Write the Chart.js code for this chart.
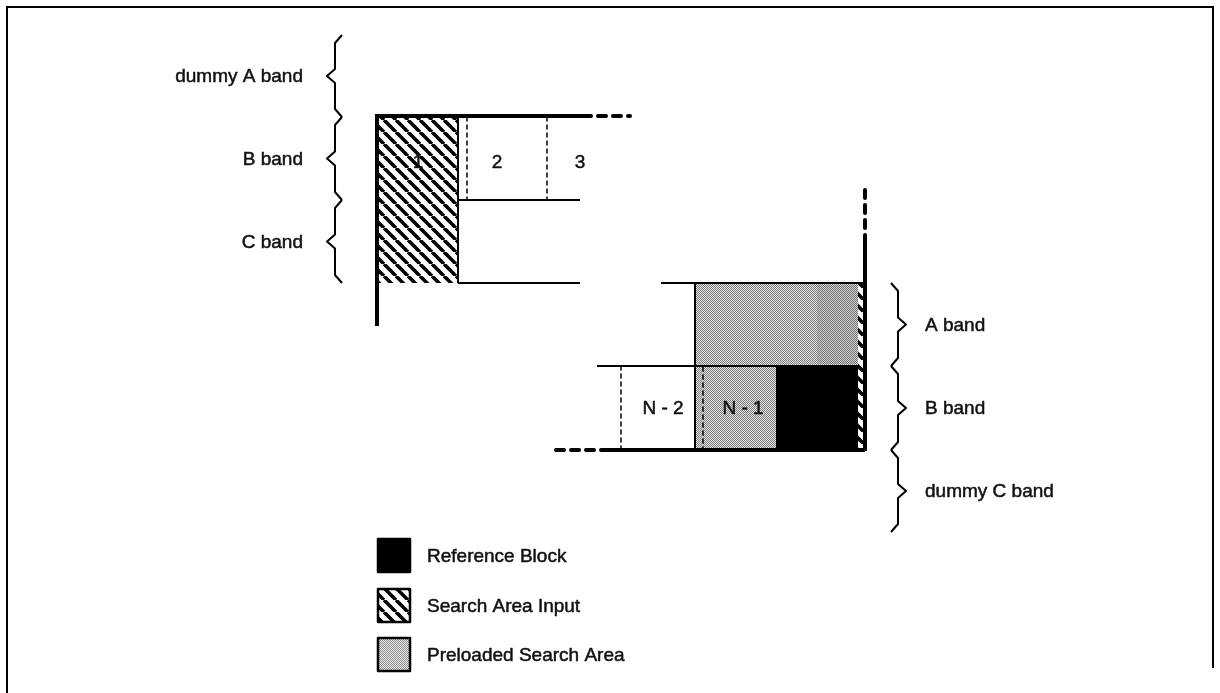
<!DOCTYPE html>
<html>
<head>
<meta charset="utf-8">
<script src="https://cdn.jsdelivr.net/npm/chart.js@4.4.0/dist/chart.umd.min.js"></script>
<style>
  body { margin: 0; background: #fff; }
  #wrap { width: 1220px; height: 693px; }
</style>
</head>
<body>
<div id="wrap"><canvas id="diagram"></canvas></div>
<script>
// band labels and where each band starts/ends (diagram units)
const leftBands = ['dummy A band', 'B band', 'C band'];
const leftBandEdges = [35, 117, 200, 283];
const rightBands = ['A band', 'B band', 'dummy C band'];
const rightBandEdges = [283, 366, 450, 532];

// block numbers
const blockLabels = ['1', '2', '3', 'N - 2', 'N - 1'];
const blockX = [418, 497, 580, 663, 743];
const blockY = [163, 163, 163, 409, 409];

// block areas [x0, y0, x1, y1]
const hatchBlocks = [[377, 116, 458, 200], [377, 200, 458, 283], [858, 283, 865, 450]];
const preloadBlocks = [[695, 283, 858, 366], [695, 366, 777, 450]];
const preloadDark = [[817, 285, 858, 364]];
const referenceBlocks = [[777, 366, 858, 450]];

// grid lines
const thickLines = [[[377, 116], [583, 116]], [[377, 114], [377, 326]], [[865, 240], [865, 451]], [[605, 450], [865, 450]]];
const thickDashed = [[[583, 116], [630, 116]], [[865, 190], [865, 240]], [[556, 450], [605, 450]]];
const thinLines = [[[458, 116], [458, 283]], [[458, 200], [580, 200]], [[458, 283], [580, 283]],
  [[661, 283], [865, 283]], [[597, 366], [858, 366]], [[695, 283], [695, 450]], [[777, 366], [777, 450]]];
const dottedLines = [[[467, 117], [467, 200]], [[547, 117], [547, 200]], [[621, 366], [621, 450]], [[703, 367], [703, 450]]];

// legend
const legendLabels = ['Reference Block', 'Search Area Input', 'Preloaded Search Area'];
const legendY = [556, 606, 655];

const FONT = '19px "Liberation Sans", Arial, sans-serif';

function makeHatch() {
  const c = document.createElement('canvas');
  c.width = 12; c.height = 12;
  const g = c.getContext('2d');
  g.strokeStyle = '#000';
  g.lineWidth = 3.6;
  [-12, 0, 12].forEach(o => {
    g.beginPath(); g.moveTo(o, 0); g.lineTo(o + 12, 12); g.stroke();
  });
  return c;
}

function makeDots(dark, light) {
  const c = document.createElement('canvas');
  c.width = 2; c.height = 2;
  const g = c.getContext('2d');
  g.fillStyle = light; g.fillRect(0, 0, 2, 2);
  g.fillStyle = dark; g.fillRect(0, 0, 1, 1); g.fillRect(1, 1, 1, 1);
  return c;
}

const segDataset = (seg, width, dash) => ({
  data: seg.map(p => ({ x: p[0], y: p[1] })),
  showLine: true,
  borderColor: '#000',
  borderWidth: width,
  borderDash: dash,
  borderCapStyle: dash.length ? 'round' : 'butt',
  pointRadius: 0,
  fill: false
});

const datasets = [
  ...thickLines.map(s => segDataset(s, 4, [])),
  ...thickDashed.map(s => segDataset(s, 4, [8, 7])),
  ...thinLines.map(s => segDataset(s, 2, [])),
  ...dottedLines.map(s => segDataset(s, 1.5, [4, 4]))
];

// draws text a bit heavier, like the scanned original
function heavyText(ctx, t, x, y) {
  ctx.fillText(t, x, y);
  ctx.strokeText(t, x, y);
}

const diagramPlugin = {
  id: 'diagram',
  beforeDatasetsDraw(chart) {
    const ctx = chart.ctx;
    const xs = chart.scales.x, ys = chart.scales.y;
    const X = v => xs.getPixelForValue(v), Y = v => ys.getPixelForValue(v);
    const hatch = ctx.createPattern(makeHatch(), 'repeat');
    const dots = ctx.createPattern(makeDots('#7a7a7a', '#e6e6e6'), 'repeat');
    const dotsDark = ctx.createPattern(makeDots('#747474', '#cfcfcf'), 'repeat');
    const rect = (r, fill) => {
      ctx.fillStyle = fill;
      ctx.fillRect(X(r[0]), Y(r[1]), X(r[2]) - X(r[0]), Y(r[3]) - Y(r[1]));
    };
    ctx.save();
    // page frame
    ctx.strokeStyle = '#000';
    ctx.lineWidth = 2;
    ctx.beginPath();
    ctx.moveTo(X(7), Y(693)); ctx.lineTo(X(7), Y(7)); ctx.lineTo(X(1213), Y(7)); ctx.lineTo(X(1213), Y(668));
    ctx.stroke();

    preloadBlocks.forEach(r => rect(r, dots));
    preloadDark.forEach(r => rect(r, dotsDark));
    referenceBlocks.forEach(r => rect(r, '#000'));
    hatchBlocks.forEach(r => {
      rect(r, '#fff');
      rect(r, hatch);
    });
    ctx.restore();
  },
  afterDatasetsDraw(chart) {
    const ctx = chart.ctx;
    const xs = chart.scales.x, ys = chart.scales.y;
    const X = v => xs.getPixelForValue(v), Y = v => ys.getPixelForValue(v);
    const hatch = ctx.createPattern(makeHatch(), 'repeat');
    const dots = ctx.createPattern(makeDots('#8a8a8a', '#ededed'), 'repeat');
    ctx.save();
    ctx.textBaseline = 'middle';

    // braces
    const brace = (x0, top, bot, dir) => {
      const mid = (top + bot) / 2;
      ctx.beginPath();
      ctx.moveTo(X(x0 - 7 * dir), Y(top));
      ctx.lineTo(X(x0), Y(top + 8));
      ctx.lineTo(X(x0), Y(mid - 7));
      ctx.lineTo(X(x0 + 8 * dir), Y(mid));
      ctx.lineTo(X(x0), Y(mid + 7));
      ctx.lineTo(X(x0), Y(bot - 8));
      ctx.lineTo(X(x0 - 7 * dir), Y(bot));
      ctx.stroke();
    };
    ctx.strokeStyle = '#000';
    ctx.lineWidth = 2;
    ctx.lineJoin = 'round';
    for (let i = 0; i < leftBands.length; i++) {
      brace(335, leftBandEdges[i], leftBandEdges[i + 1], -1);
    }
    for (let i = 0; i < rightBands.length; i++) {
      brace(898, rightBandEdges[i], rightBandEdges[i + 1], 1);
    }

    ctx.fillStyle = '#111';
    ctx.strokeStyle = '#111';
    ctx.lineWidth = 0.5;
    ctx.font = FONT;
    for (let i = 0; i < leftBands.length; i++) {
      const mid = (leftBandEdges[i] + leftBandEdges[i + 1]) / 2;
      ctx.textAlign = 'right';
      heavyText(ctx, leftBands[i], X(303), Y(mid + 1));
    }
    for (let i = 0; i < rightBands.length; i++) {
      const mid = (rightBandEdges[i] + rightBandEdges[i + 1]) / 2;
      ctx.textAlign = 'left';
      heavyText(ctx, rightBands[i], X(925), Y(mid + 1));
    }

    // block numbers
    ctx.textAlign = 'center';
    blockLabels.forEach((t, i) => heavyText(ctx, t, X(blockX[i]), Y(blockY[i])));

    // legend
    const fills = ['#000', hatch, dots];
    legendLabels.forEach((t, i) => {
      const y0 = legendY[i] - 17;
      const w = X(410) - X(378), h = Y(y0 + 33) - Y(y0);
      ctx.fillStyle = '#fff';
      ctx.fillRect(X(378), Y(y0), w, h);
      ctx.fillStyle = fills[i];
      ctx.fillRect(X(378), Y(y0), w, h);
      ctx.lineWidth = 2.5;
      ctx.strokeStyle = '#000';
      ctx.strokeRect(X(378), Y(y0), w, h);
      ctx.fillStyle = '#111';
      ctx.strokeStyle = '#111';
      ctx.lineWidth = 0.5;
      ctx.textAlign = 'left';
      heavyText(ctx, t, X(427), Y(legendY[i] + 1));
    });
    ctx.restore();
  }
};

new Chart(document.getElementById('diagram'), {
  type: 'scatter',
  data: { datasets: datasets },
  options: {
    responsive: true,
    maintainAspectRatio: false,
    animation: false,
    layout: { padding: 0 },
    plugins: { legend: { display: false }, tooltip: { enabled: false } },
    scales: {
      x: { type: 'linear', min: 0, max: 1220, display: false },
      y: { type: 'linear', min: 0, max: 693, reverse: true, display: false }
    }
  },
  plugins: [diagramPlugin]
});
</script>
</body>
</html>
